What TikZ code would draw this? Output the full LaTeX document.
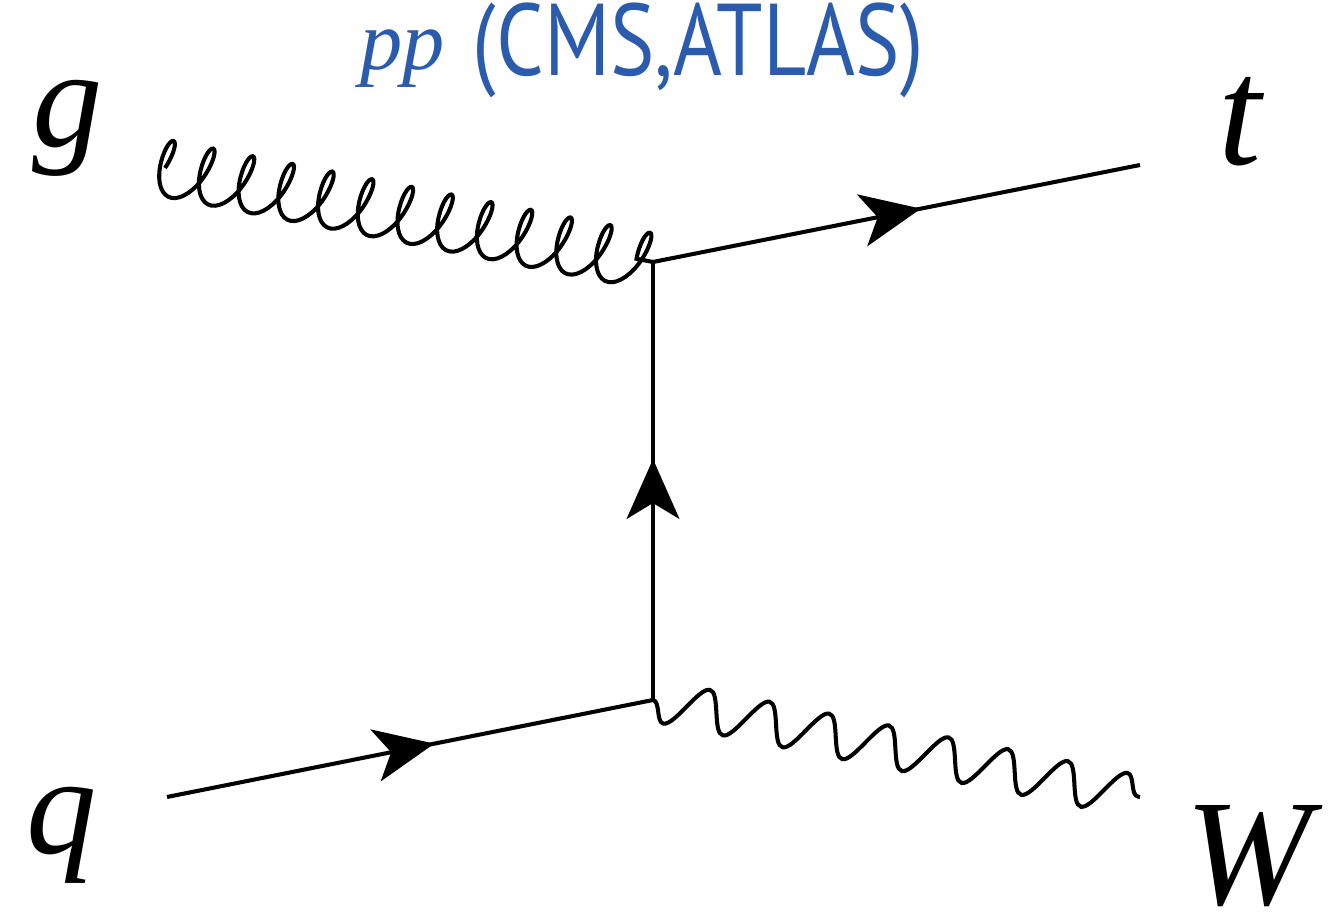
\documentclass[tikz,border=0pt]{standalone}
\usepackage{fontspec}
\setmainfont{Liberation Serif}
\newfontfamily\titlefont{PT Sans}
\usetikzlibrary{decorations.pathmorphing,decorations.markings,arrows.meta}
\definecolor{titleblue}{HTML}{2B5BAD}
\begin{document}
\begin{tikzpicture}[x=0.01cm,y=-0.01cm,line width=1.15pt,
  fermion/.style={postaction={decorate},decoration={markings,mark=at position #1 with {\arrow{Stealth[length=17pt,width=15pt,inset=4.5pt]}}}},
  gluon/.style={decorate,decoration={coil,amplitude=8pt,segment length=11.5pt,aspect=-0.45,transform={xslant=0.2}}},
  photon/.style={decorate,decoration={snake,amplitude=-6pt,segment length=17.3pt,transform={xslant=0.2}}},
  lbl/.style={font=\fontsize{40}{44}\selectfont\itshape,inner sep=0pt}]
\useasboundingbox (0,0) rectangle (1333,919);
\coordinate (v1) at (653,262);
\coordinate (v2) at (653,700);
\coordinate (gin) at (165,168);
\coordinate (qin) at (167,797);
\coordinate (tout) at (1140,165);
\coordinate (wout) at (1140,797);
\draw[gluon] (gin) -- (v1);
\draw[fermion=0.55] (v1) -- (tout);
\draw[fermion=0.55] (qin) -- (v2);
\draw[fermion=0.55] (v2) -- (v1);
\draw[photon] (v2) -- (wout);
\node[lbl] (g) at (68,128) {g};
\node[lbl,font=\fontsize{44}{48}\selectfont\itshape] (t) at (1240,122) {t};
\node[lbl] (q) at (62,835) {q};
\node[lbl,font=\fontsize{43}{47}\selectfont\itshape] (W) at (1248,856) {W};
\node[text=titleblue,inner sep=0pt] (title) at (642,50) {\raisebox{1.5pt}{\fontsize{24}{28}\selectfont\itshape pp}\hspace{8pt}{\fontsize{29}{32}\selectfont\scalebox{0.82}[1]{\titlefont (CMS,ATLAS)}}};
\end{tikzpicture}
\end{document}
